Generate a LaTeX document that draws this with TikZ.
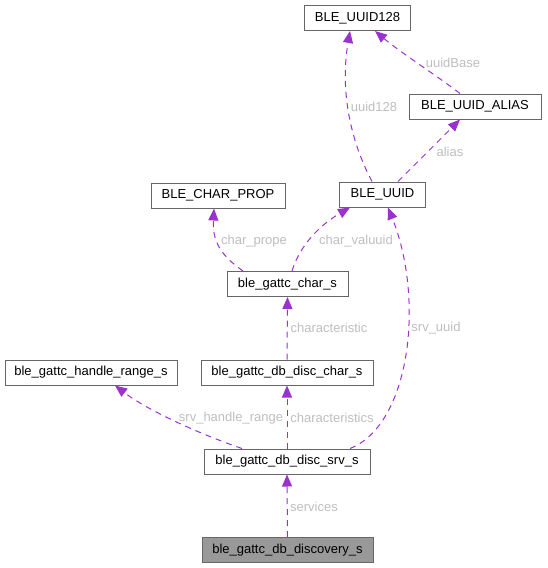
\documentclass[tikz,border=0pt]{standalone}
\usepackage{fontspec}
\setmainfont{Liberation Sans}
\usetikzlibrary{arrows.meta}
\definecolor{edgec}{HTML}{9A32CD}
\definecolor{lblc}{HTML}{BEBEBE}
\definecolor{boxc}{HTML}{666666}
\definecolor{fillc}{HTML}{999999}
\tikzset{
  cls/.style={draw=boxc, line width=1pt, rectangle, inner sep=0pt, minimum height=25pt, font=\fontsize{13}{15}\selectfont, text=black},
  rel/.style={draw=edgec, line width=1pt, dash pattern=on 6pt off 5pt, -{Triangle[length=12pt,width=10pt,fill=edgec]}},
  lbl/.style={inner sep=0pt, text=lblc, font=\fontsize{13}{15}\selectfont}
}
\begin{document}
\begin{tikzpicture}[x=1pt,y=-1pt]
\useasboundingbox (0,0) rectangle (547,568);
\node[cls, minimum width=106pt] (uuid128) at (357.5,18) {BLE\_UUID128};
\node[cls, minimum width=132pt] (alias) at (475,106.5) {BLE\_UUID\_ALIAS};
\node[cls, minimum width=86pt] (uuid) at (382.5,194.5) {BLE\_UUID};
\node[cls, minimum width=134pt] (charprop) at (218,195.5) {BLE\_CHAR\_PROP};
\node[cls, minimum width=121pt] (chars) at (287.5,284) {ble\_gattc\_char\_s};
\node[cls, minimum width=172pt] (hr) at (91,372.5) {ble\_gattc\_handle\_range\_s};
\node[cls, minimum width=172pt] (dchar) at (287,372.5) {ble\_gattc\_db\_disc\_char\_s};
\node[cls, minimum width=166pt] (srv) at (287,461.5) {ble\_gattc\_db\_disc\_srv\_s};
\node[cls, minimum width=171pt, fill=fillc] (disc) at (287.5,550) {ble\_gattc\_db\_discovery\_s};

\draw[rel] (disc.north) -- (srv.south);
\draw[rel] (srv.north) -- (dchar.south);
\draw[rel] ([xshift=-45pt]srv.north) .. controls (205,436) and (150,412) .. ([xshift=24pt]hr.south);
\draw[rel] ([xshift=63pt]srv.north) .. controls (410,425) and (425,300) .. ([xshift=5.5pt]uuid.south);
\draw[rel] (dchar.north) -- (chars.south);
\draw[rel] ([xshift=-44.5pt]chars.north) .. controls (225,258) and (212,245) .. ([xshift=-4pt]charprop.south);
\draw[rel] ([xshift=4.5pt]chars.north) .. controls (300,245) and (320,225) .. ([xshift=-32.5pt]uuid.south);
\draw[rel] ([xshift=-10.5pt]uuid.north) .. controls (350,140) and (340,90) .. ([xshift=-7.5pt]uuid128.south);
\draw[rel] ([xshift=15.5pt]uuid.north) -- ([xshift=-15pt]alias.south);
\draw[rel] ([xshift=-15pt]alias.north) .. controls (440,78) and (400,52) .. ([xshift=17.5pt]uuid128.south);

\node[lbl] (l1) at (314,507) {services};
\node[lbl] (l2) at (332,418) {characteristics};
\node[lbl] (l3) at (231,418) {srv\_handle\_range};
\node[lbl] (l4) at (436,328) {srv\_uuid};
\node[lbl] (l5) at (329,328) {characteristic};
\node[lbl] (l6) at (254,241) {char\_prope};
\node[lbl] (l7) at (356,241) {char\_valuuid};
\node[lbl] (l8) at (374,107) {uuid128};
\node[lbl] (l9) at (450,152) {alias};
\node[lbl] (l10) at (453,63) {uuidBase};
\end{tikzpicture}
\end{document}
